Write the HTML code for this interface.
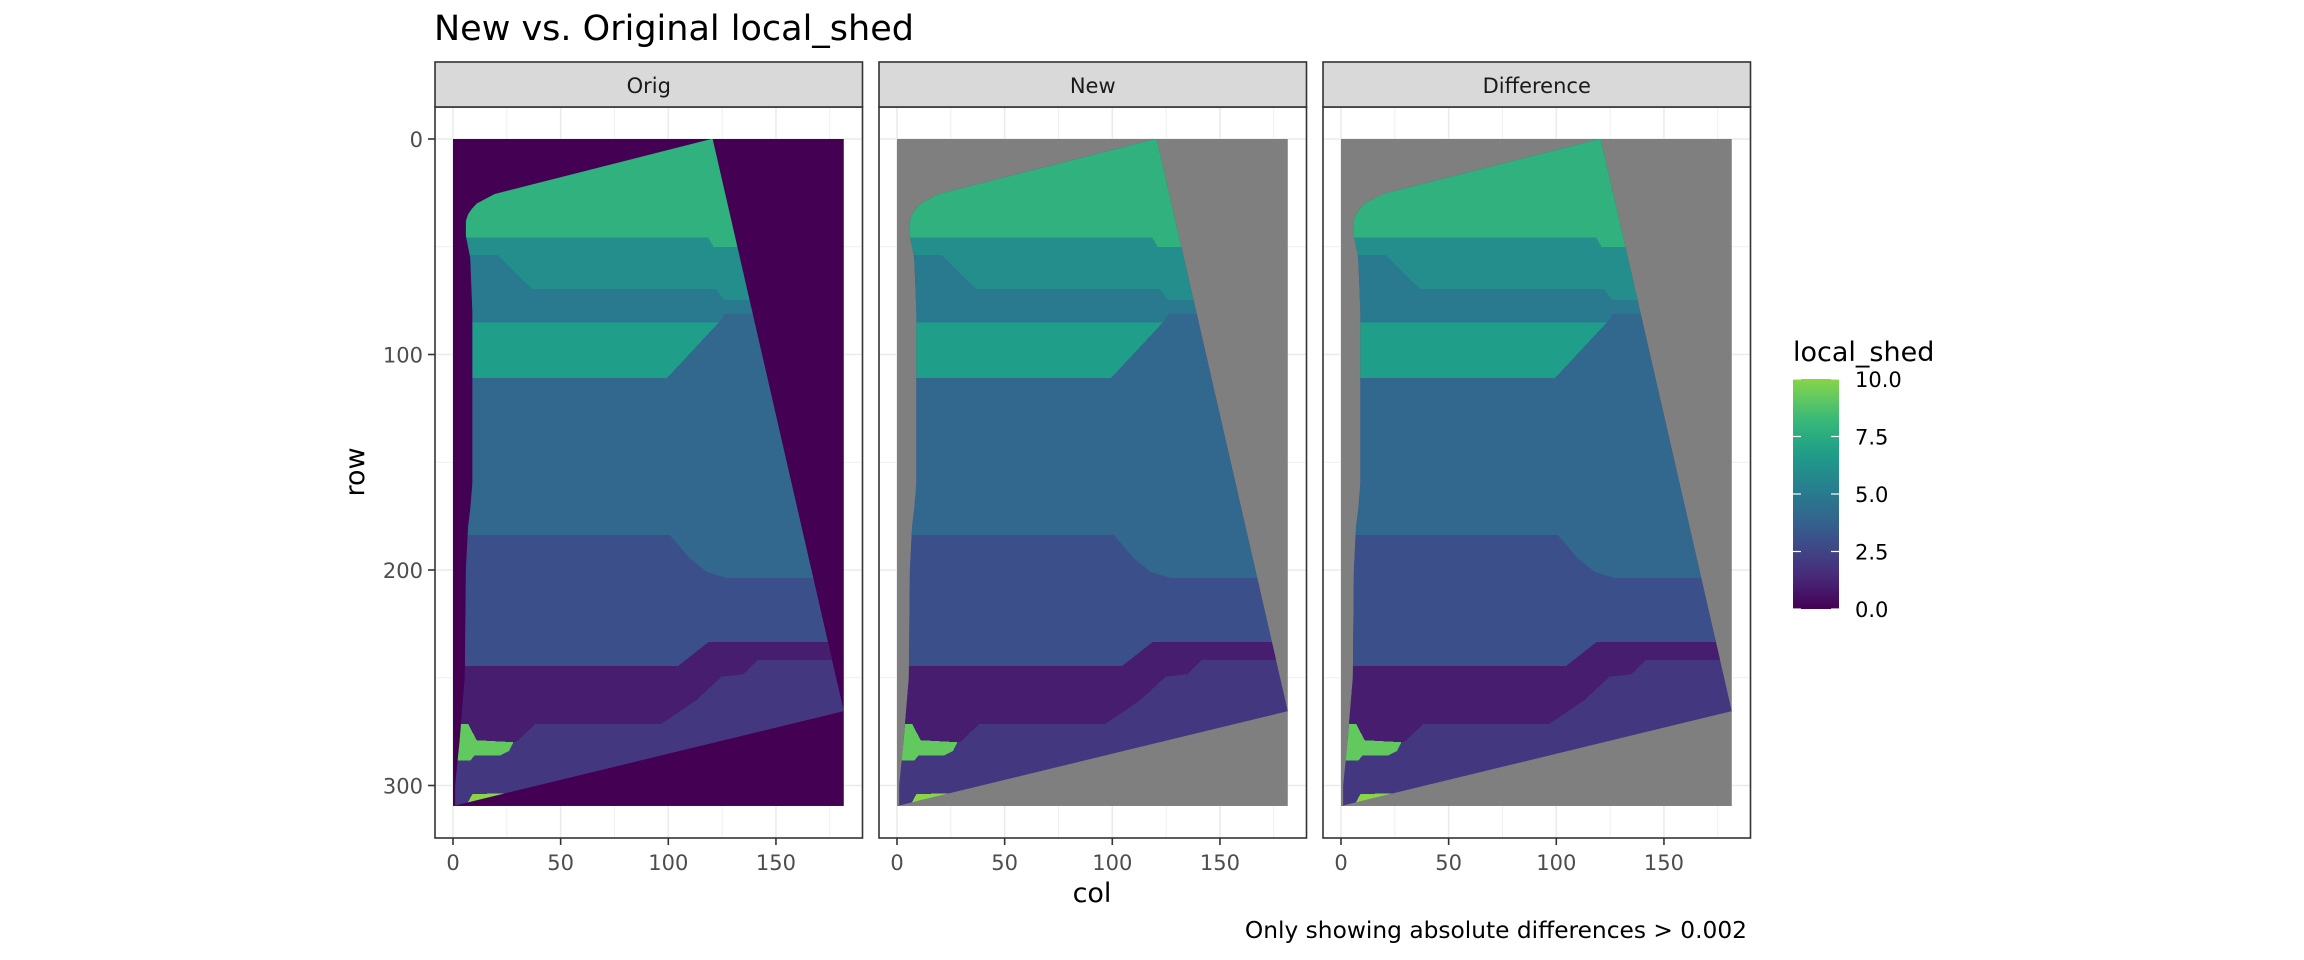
<!DOCTYPE html>
<html><head><meta charset="utf-8"><style>
html,body{margin:0;padding:0;background:#fff}
svg{display:block;font-family:"DejaVu Sans","Liberation Sans",sans-serif}
</style></head><body>
<svg id="chart" width="2304" height="960" viewBox="0 0 2304 960">
<defs>
<linearGradient id="lg" x1="0" y1="1" x2="0" y2="0"></linearGradient>
</defs>
<text x="434" y="40" font-size="35" fill="#000">New vs. Original local_shed</text>
<g id="panels"></g>
<text x="1092" y="902" font-size="27" text-anchor="middle" fill="#000">col</text>
<text transform="translate(364,472) rotate(-90)" font-size="27" text-anchor="middle" fill="#000">row</text>
<text x="1747" y="938" font-size="23.3" text-anchor="end" fill="#000">Only showing absolute differences &gt; 0.002</text>
<g id="legend">
<text x="1793" y="361" font-size="27" fill="#000">local_shed</text>
</g>
</svg>
<script>
// ---- data ----
const panelNames = ["Orig", "New", "Difference"];
const panelBackground = [0, null, null]; // null = NA (grey)
const xTicks = [0, 50, 100, 150];
const xMinor = [25, 75, 125, 175];
const yTicks = [0, 100, 200, 300];
const yMinor = [50, 150, 250];
const legendTicks = [0, 2.5, 5, 7.5, 10];
const legendLabels = ["0.0", "2.5", "5.0", "7.5", "10.0"];
const rasterCols = 181.5;
const rasterRows = 309.5;
// outline of non-zero area (col,row)
const shapeOutline = [[6,42],[6,38],[7,35],[8.7,32.5],[11,30],[14.1,28.3],[19.4,25.5],[120,0],[120.6,0],[181.5,265.5],[0,310.5],[1,310],[1,300],[3,280],[5.5,250],[6,200],[7,180],[8,172],[9,160],[9,80],[8,55],[6,45]];
const regionValues = [2, 1, 3, 4, 6.8, 5, 6, 7.8, 9.2, 10];
const regionPolys = [
 [[-5,-5],[200,-5],[200,320],[-5,320]],
 [[-5,244.5],[104.6,244.5],[118.6,233.5],[200,233.5],[200,241.7],[141.7,241.7],[135,248.4],[124.8,249.5],[112.8,260.6],[96.8,271.4],[38.3,271.4],[29.4,279.9],[-5,279.9]],
 [[-5,183.8],[100.7,183.8],[110,194.6],[118,201],[127.5,203.8],[200,203.8],[200,233.5],[118.6,233.5],[104.6,244.5],[-5,244.5]],
 [[-5,110.8],[99.5,110.8],[124,82.5],[126,81.2],[200,81.2],[200,203.8],[127.5,203.8],[118,201],[110,194.6],[100.7,183.8],[-5,183.8]],
 [[-5,85.1],[123.5,85.1],[99.5,110.8],[-5,110.8]],
 [[-5,53.8],[20.8,53.8],[36.7,69.6],[122,69.6],[126,74.7],[200,74.7],[200,81.2],[126,81.2],[123.5,85.1],[-5,85.1]],
 [[-5,45.8],[118.6,45.8],[121,50],[200,50],[200,74.7],[126,74.7],[122,69.6],[36.7,69.6],[20.8,53.8],[-5,53.8]],
 [[-5,-5],[200,-5],[200,50],[121,50],[118.6,45.8],[-5,45.8]],
 [[2,271.4],[7,271.4],[11,279],[28,279.9],[26,284],[22,286],[10,286],[8,288.5],[2,288.5]],
 [[6,310],[9,304],[29,303.5],[12,310]]
];
// ---- scales ----
const vir = ["#440154","#482878","#3e4989","#31688e","#26828e","#1f9e89","#35b779","#6ece58","#b5de2b","#fde725"];
function hex2rgb(h){return [1,3,5].map(i=>parseInt(h.substr(i,2),16));}
function color(v){
  if(v===null) return "#7f7f7f";
  let t = Math.max(0,Math.min(1,v*0.082));
  let p = t*(vir.length-1), i=Math.min(Math.floor(p),vir.length-2), f=p-i;
  let a=hex2rgb(vir[i]), b=hex2rgb(vir[i+1]);
  return "rgb("+a.map((x,k)=>Math.round(x+(b[k]-x)*f)).join(",")+")";
}
const NS="http://www.w3.org/2000/svg";
function el(tag,attrs,parent){const e=document.createElementNS(NS,tag);for(const k in attrs)e.setAttribute(k,attrs[k]);if(parent)parent.appendChild(e);return e;}
const kx=2.153, ky=2.155, y0=139;
const ys=r=>y0+r*ky;
const panels=document.getElementById("panels");
panelNames.forEach((name,i)=>{
  const x0=453+i*444;
  const xs=c=>x0+c*kx;
  const left=435+i*444, right=left+427.5, top=107, bottom=838;
  const g=el("g",{},panels);
  
  
  el("rect",{x:left,y:top,width:right-left,height:bottom-top,fill:"#fff"},g);
  xMinor.forEach(v=>{const l=el("line",{x1:xs(v),x2:xs(v),y1:top,y2:bottom,stroke:"#ebebeb","stroke-width":0.8},g);});
  yMinor.forEach(v=>{const l=el("line",{x1:left,x2:right,y1:ys(v),y2:ys(v),stroke:"#ebebeb","stroke-width":0.8},g);});
  xTicks.forEach(v=>{const l=el("line",{x1:xs(v),x2:xs(v),y1:top,y2:bottom,stroke:"#ebebeb","stroke-width":1.6},g);});
  yTicks.forEach(v=>{const l=el("line",{x1:left,x2:right,y1:ys(v),y2:ys(v),stroke:"#ebebeb","stroke-width":1.6},g);});
  const bg=el("rect",{x:xs(0),y:ys(0),width:rasterCols*kx,height:rasterRows*ky,fill:color(panelBackground[i])},g);
  
  
  const cid="clip"+i;
  const cp=el("clipPath",{id:cid},g);
  el("polygon",{points:shapeOutline.map(p=>xs(Math.min(p[0],rasterCols))+","+ys(Math.min(p[1],rasterRows))).join(" ")},cp);
  const rg=el("g",{"clip-path":"url(#"+cid+")","shape-rendering":"crispEdges"},g);
  regionPolys.forEach((poly,j)=>{
    const pg=el("polygon",{points:poly.map(p=>xs(Math.max(0,Math.min(p[0],rasterCols)))+","+ys(Math.max(0,Math.min(p[1],rasterRows)))).join(" "),fill:color(regionValues[j])},rg);
    
    
  });
  const bd=el("rect",{x:left,y:top,width:right-left,height:bottom-top,fill:"none",stroke:"#333","stroke-width":1.6},g);
  
  
  const st=el("rect",{x:left,y:62,width:right-left,height:45,fill:"#d9d9d9",stroke:"#333","stroke-width":1.6},g);
  
  
  const stt=el("text",{x:(left+right)/2,y:93,"font-size":21,"text-anchor":"middle",fill:"#1a1a1a"},g);
  stt.textContent=name;
  
  
  xTicks.forEach(v=>{
    el("line",{x1:xs(v),x2:xs(v),y1:bottom,y2:bottom+7,stroke:"#333","stroke-width":1.6},g);
    const t=el("text",{x:xs(v),y:870,"font-size":21,"text-anchor":"middle",fill:"#4d4d4d"},g);
    t.textContent=v;
    
    
  });
  if(i===0){
    yTicks.forEach(v=>{
      el("line",{x1:left-7,x2:left,y1:ys(v),y2:ys(v),stroke:"#333","stroke-width":1.6},g);
      const t=el("text",{x:left-12,y:ys(v)+8,"font-size":21,"text-anchor":"end",fill:"#4d4d4d"},g);
      t.textContent=v;
      
      
    });
  }
});
// legend
const lg=document.getElementById("lg");
for(let s=0;s<=20;s++){const v=s/2;el("stop",{offset:(v/10*100)+"%","stop-color":color(v)},lg);}
const legend=document.getElementById("legend");
const lTop=379,lBot=609,lx=1793,lw=46;
const ly=v=>lBot-(v/10)*(lBot-lTop);
const bar=el("rect",{x:lx,y:lTop,width:lw,height:lBot-lTop,fill:"url(#lg)"},legend);


legendTicks.forEach((v,k)=>{
  el("line",{x1:lx,x2:lx+8,y1:ly(v),y2:ly(v),stroke:"#fff","stroke-width":1.2},legend);
  el("line",{x1:lx+lw-8,x2:lx+lw,y1:ly(v),y2:ly(v),stroke:"#fff","stroke-width":1.2},legend);
  const t=el("text",{x:1855,y:ly(v)+8,"font-size":21,fill:"#000"},legend);
  t.textContent=legendLabels[k];
  
  
});
</script>
</body></html>
